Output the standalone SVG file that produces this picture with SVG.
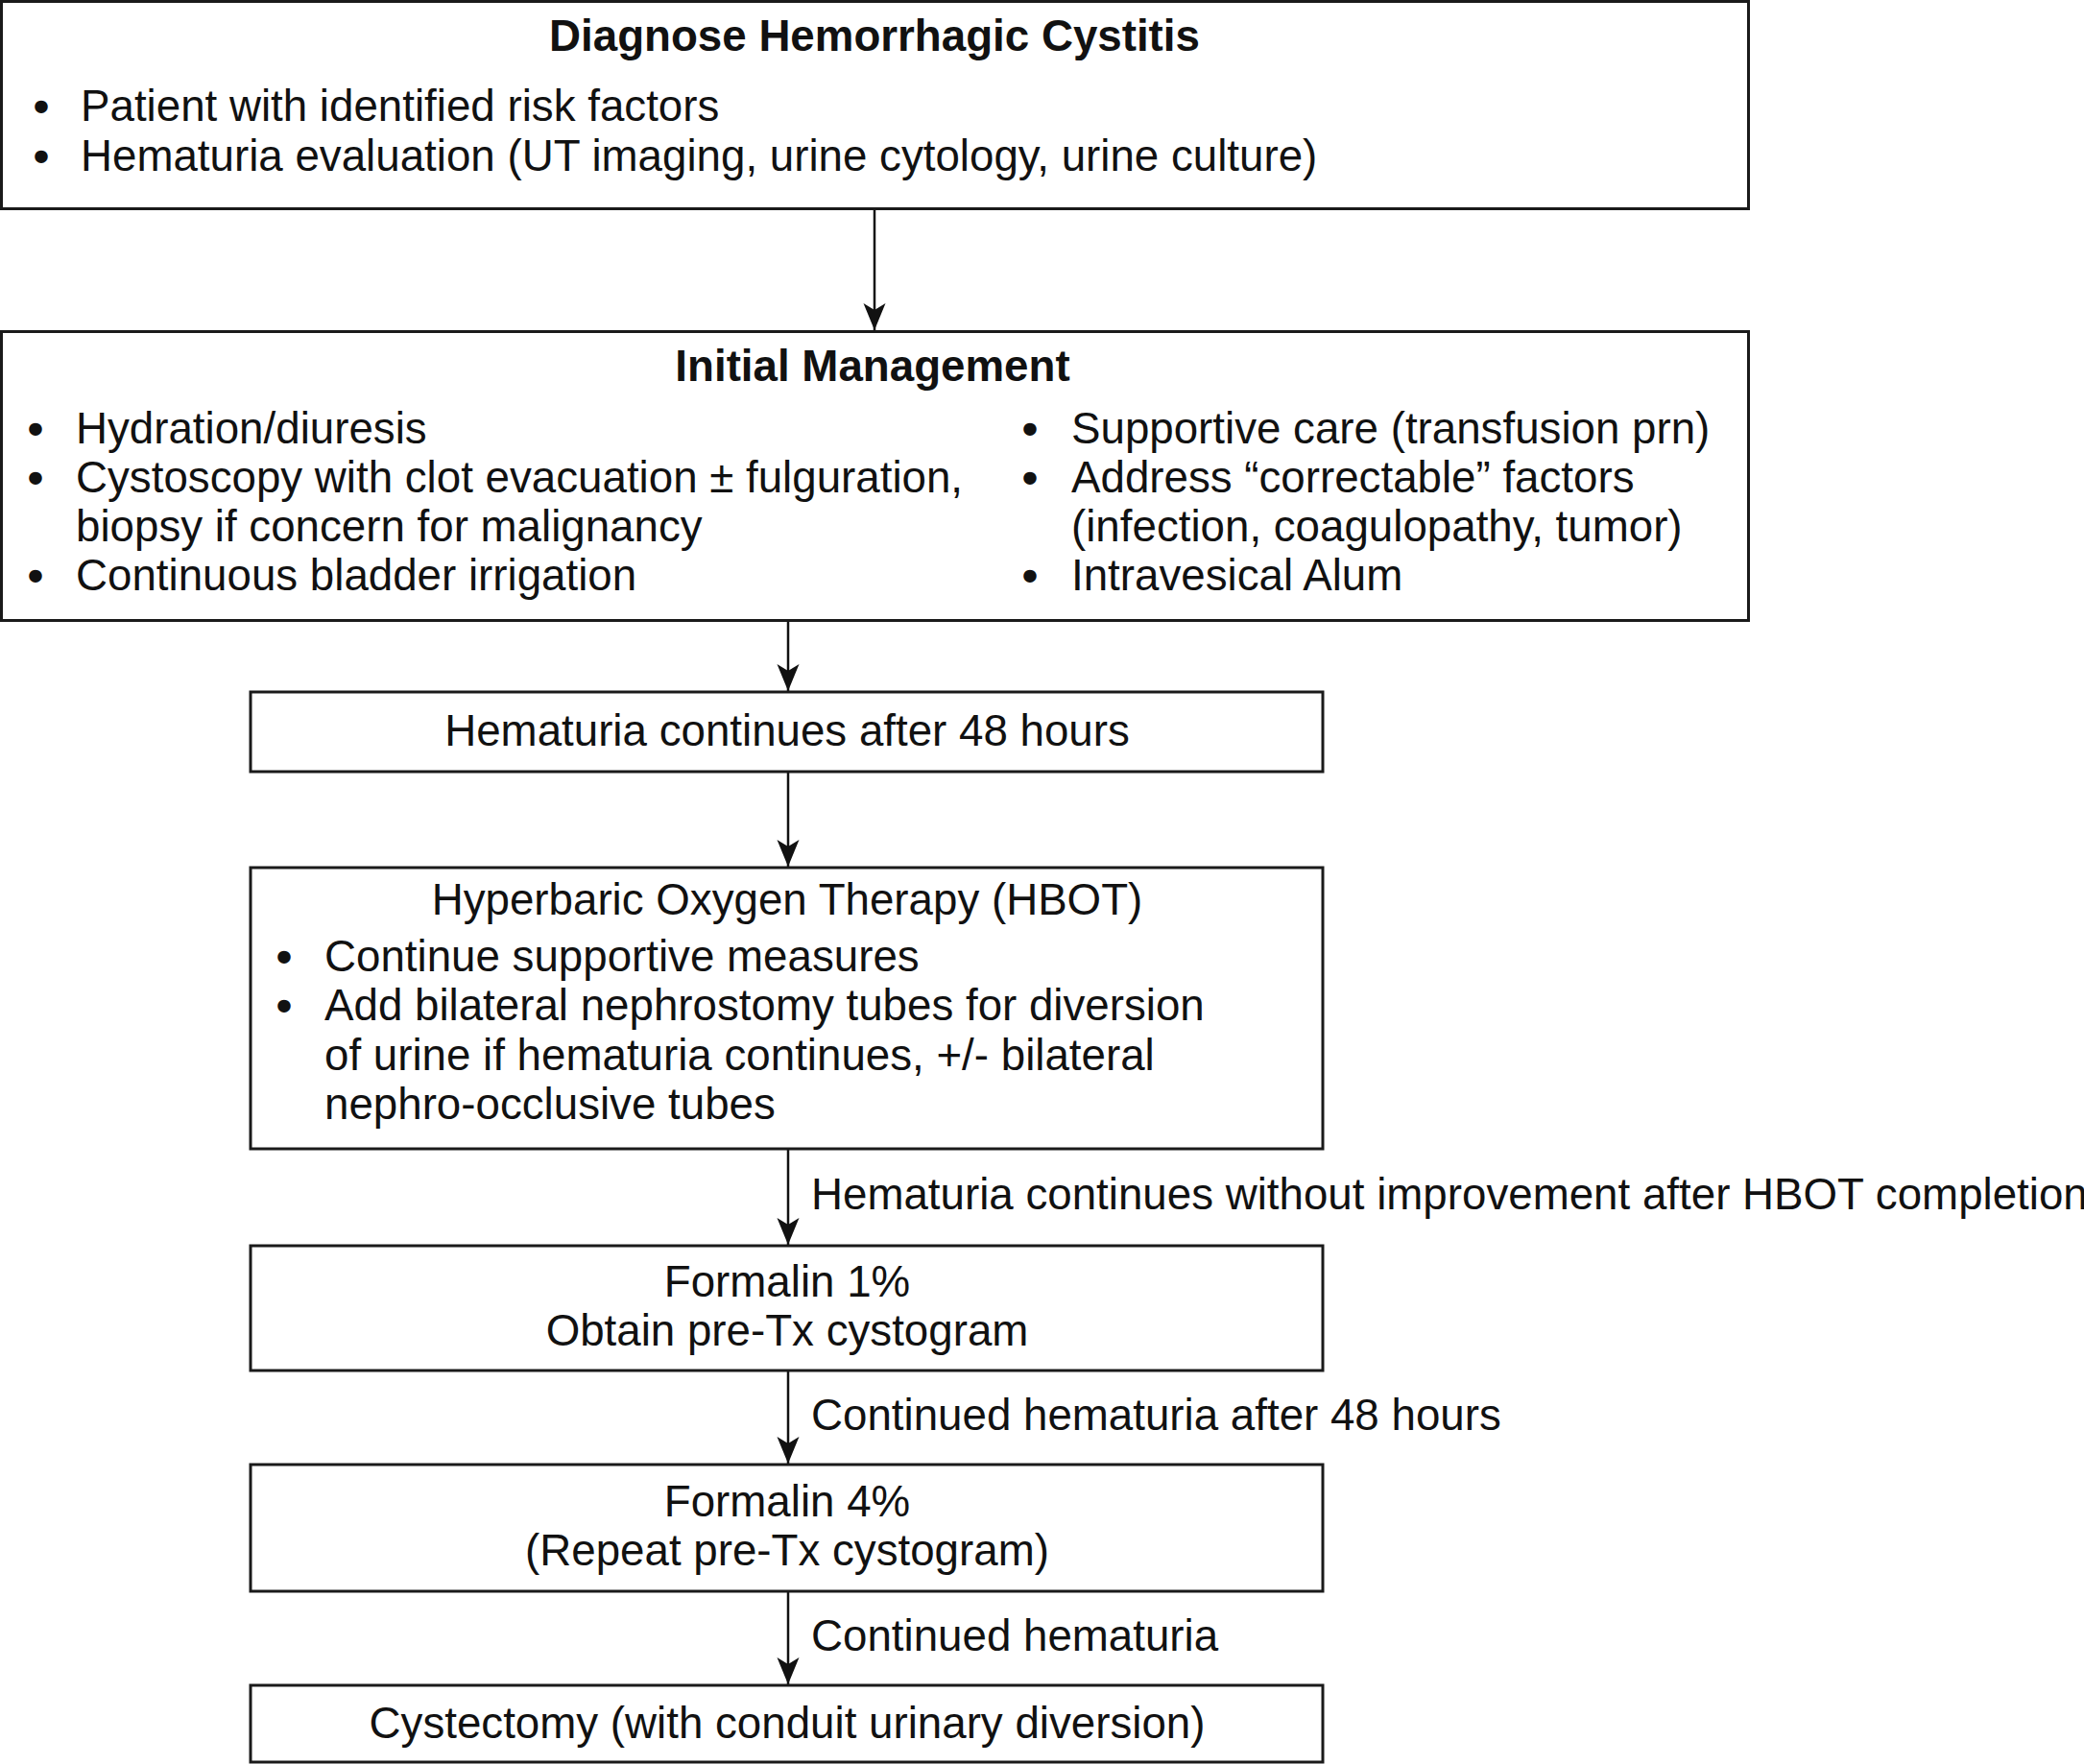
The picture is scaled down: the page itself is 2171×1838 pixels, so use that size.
<svg xmlns="http://www.w3.org/2000/svg" width="2171" height="1838" viewBox="0 0 2171 1838">
<style>
.box{fill:#fff;stroke:#1a1a1a;stroke-width:3}
text{font-family:"Liberation Sans",Arial,Helvetica,sans-serif;font-size:45.7px;fill:#111}
.b{font-weight:bold}
.c{text-anchor:middle}
.d{font-size:47px;text-anchor:middle;font-weight:bold}
.edge{stroke:#111;stroke-width:2.5;fill:none}
</style>
<defs>
<marker id="ah" markerUnits="userSpaceOnUse" viewBox="-30 -13 32 26" markerWidth="32" markerHeight="26" refX="0" refY="0" orient="auto">
<path d="M0,0 L-28,-11.5 L-21,0 L-28,11.5 Z" fill="#111"/>
</marker>
</defs>
<rect width="2171" height="1838" fill="#fff"/>
<g id="connectors">
<line class="edge" x1="911" y1="218" x2="911" y2="344" marker-end="url(#ah)"/>
<line class="edge" x1="821" y1="647" x2="821" y2="720" marker-end="url(#ah)"/>
<line class="edge" x1="821" y1="804" x2="821" y2="903" marker-end="url(#ah)"/>
<line class="edge" x1="821" y1="1197" x2="821" y2="1297" marker-end="url(#ah)"/>
<text x="845" y="1260">Hematuria continues without improvement after HBOT completion</text>
<line class="edge" x1="821" y1="1428" x2="821" y2="1525" marker-end="url(#ah)"/>
<text x="845" y="1490">Continued hematuria after 48 hours</text>
<line class="edge" x1="821" y1="1658" x2="821" y2="1755" marker-end="url(#ah)"/>
<text x="845" y="1720">Continued hematuria</text>
</g>
<g id="diagnose">
<rect class="box" x="1.5" y="1.5" width="1820" height="216"/>
<text class="b c" x="911" y="53">Diagnose Hemorrhagic Cystitis</text>
<text class="d" x="43" y="127">•</text>
<text x="84" y="126">Patient with identified risk factors</text>
<text class="d" x="43" y="179">•</text>
<text x="84" y="178">Hematuria evaluation (UT imaging, urine cytology, urine culture)</text>
</g>
<g id="initial">
<rect class="box" x="1.5" y="345.5" width="1820" height="301"/>
<text class="b c" x="909" y="397">Initial Management</text>
<text class="d" x="37" y="463">•</text>
<text x="79" y="462">Hydration/diuresis</text>
<text class="d" x="37" y="514">•</text>
<text x="79" y="513">Cystoscopy with clot evacuation ± fulguration,</text>
<text x="79" y="564">biopsy if concern for malignancy</text>
<text class="d" x="37" y="616">•</text>
<text x="79" y="615">Continuous bladder irrigation</text>
<text class="d" x="1073" y="463">•</text>
<text x="1116" y="462">Supportive care (transfusion prn)</text>
<text class="d" x="1073" y="514">•</text>
<text x="1116" y="513">Address “correctable” factors</text>
<text x="1116" y="564">(infection, coagulopathy, tumor)</text>
<text class="d" x="1073" y="616">•</text>
<text x="1116" y="615">Intravesical Alum</text>
</g>
<g id="hematuria48">
<rect class="box" x="261" y="721" width="1117" height="83"/>
<text class="c" x="820" y="777">Hematuria continues after 48 hours</text>
</g>
<g id="hbot">
<rect class="box" x="261" y="904" width="1117" height="293"/>
<text class="c" x="820" y="953">Hyperbaric Oxygen Therapy (HBOT)</text>
<text class="d" x="296" y="1013">•</text>
<text x="338" y="1012">Continue supportive measures</text>
<text class="d" x="296" y="1064">•</text>
<text x="338" y="1063">Add bilateral nephrostomy tubes for diversion</text>
<text x="338" y="1115">of urine if hematuria continues, +/- bilateral</text>
<text x="338" y="1166">nephro-occlusive tubes</text>
</g>
<g id="formalin1">
<rect class="box" x="261" y="1298" width="1117" height="130"/>
<text class="c" x="820" y="1351">Formalin 1%</text>
<text class="c" x="820" y="1402">Obtain pre-Tx cystogram</text>
</g>
<g id="formalin4">
<rect class="box" x="261" y="1526" width="1117" height="132"/>
<text class="c" x="820" y="1580">Formalin 4%</text>
<text class="c" x="820" y="1631">(Repeat pre-Tx cystogram)</text>
</g>
<g id="cystectomy">
<rect class="box" x="261" y="1756" width="1117" height="80"/>
<text class="c" x="820" y="1811">Cystectomy (with conduit urinary diversion)</text>
</g>
</svg>
